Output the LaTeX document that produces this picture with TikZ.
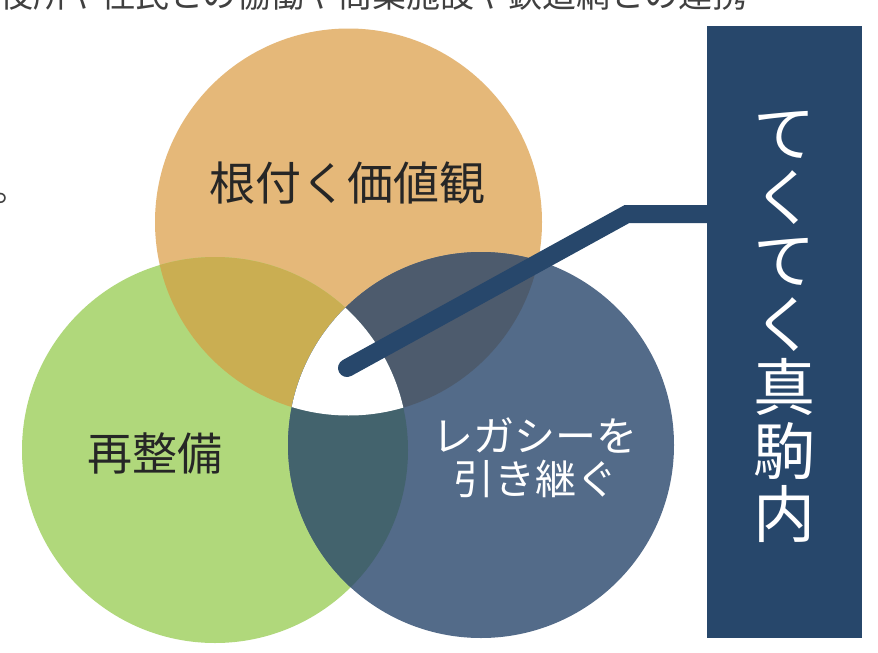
\documentclass[tikz,border=0pt]{standalone}
\usepackage{fontspec}
\newfontfamily\jp{Noto Sans CJK JP}
\definecolor{orangec}{HTML}{E5B879}
\definecolor{greenc}{HTML}{B0D87B}
\definecolor{bluec}{HTML}{536B89}
\definecolor{ogc}{HTML}{CAAE52}
\definecolor{obc}{HTML}{4D5B6D}
\definecolor{gbc}{HTML}{43636D}
\definecolor{navyc}{HTML}{27476B}
\definecolor{inkc}{HTML}{262626}
\definecolor{grayc}{HTML}{404040}
\tikzset{
  lbl/.style={inner sep=0, font=\jp, text=inkc},
  connector/.style={line width=18pt, line cap=round, draw=navyc},
  panel/.style={fill=navyc, draw=none, minimum width=155pt, minimum height=612pt, inner sep=0}
}
\begin{document}
\begin{tikzpicture}[x=1pt,y=-1pt]
\clip (0,0) rectangle (878,653);
\fill[white] (0,0) rectangle (878,653);
% top clipped line
\node[anchor=base west, inner sep=0, font=\jp\fontsize{34}{34}\selectfont, text=grayc] (topline) at (-1,7) {役所や住民との協働や商業施設や鉄道網との連携};
\node[anchor=base west, inner sep=0, font=\jp\fontsize{34}{34}\selectfont, text=grayc] (stop) at (-6,201) {。};
% circles
\coordinate (O) at (348.5,222);
\coordinate (G) at (215,450);
\coordinate (B) at (481,445);
\fill[orangec] (O) circle[radius=193.5pt];
\fill[greenc] (G) circle[radius=193pt];
\fill[bluec] (B) circle[radius=193pt];
\begin{scope}
  \clip (O) circle[radius=193.5pt];
  \fill[ogc] (G) circle[radius=193pt];
  \fill[obc] (B) circle[radius=193pt];
\end{scope}
\begin{scope}
  \clip (G) circle[radius=193pt];
  \fill[gbc] (B) circle[radius=193pt];
\end{scope}
\begin{scope}
  \clip (O) circle[radius=193.5pt];
  \clip (G) circle[radius=193pt];
  \fill[white] (B) circle[radius=193pt];
\end{scope}
% labels
\node[lbl, font=\jp\fontsize{46}{46}\selectfont] (roots) at (347.5,183) {根付く価値観};
\node[lbl, font=\jp\fontsize{45}{45}\selectfont] (rebuild) at (155,453) {再整備};
\node[lbl, font=\jp\fontsize{41}{43}\selectfont, text=white, align=center] (legacy) at (535,458) {レガシーを\\引き継ぐ};
% panel
\node[panel] (box) at (784.5,332) {};
\node[lbl, text=white, font=\jp\fontsize{62}{63.5}\selectfont, align=center] (title) at (784.5,327) {て\\く\\て\\く\\真\\駒\\内};
% connector
\coordinate (hub) at (347,368);
\coordinate (elbow) at (627,214);
\draw[connector] (hub) -- (elbow) -- (box.west |- elbow);
\end{tikzpicture}
\end{document}
